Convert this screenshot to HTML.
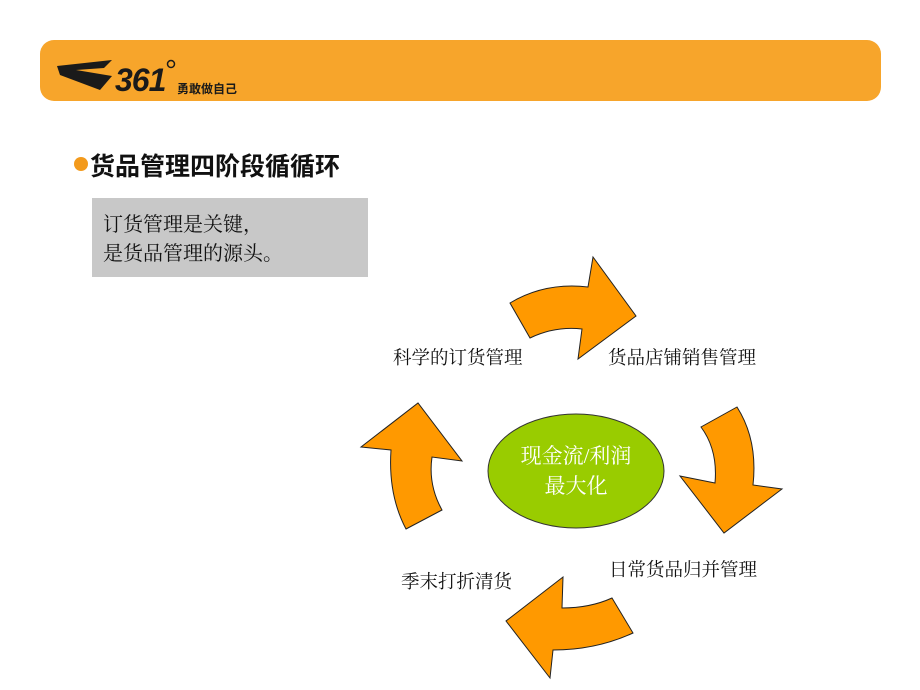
<!DOCTYPE html>
<html><head><meta charset="utf-8"><style>
body{margin:0;width:920px;height:690px;background:#fff;position:relative;overflow:hidden;font-family:"Liberation Serif","Noto Serif CJK SC",serif}
.bar{position:absolute;left:40px;top:40px;width:841px;height:61px;background:#f7a52b;border-radius:14px}
.t{position:absolute;white-space:nowrap}
</style></head><body>
<div class="bar"></div>
<svg class="t" style="left:0;top:0" width="920" height="690">
<path d="M57 66 L112 60 L104 68 L76 70 L112 76 L100 90 L60 75 Z" fill="#1a1a1a"/>
<text x="115" y="91" font-family="Liberation Sans,sans-serif" font-style="italic" font-weight="bold" font-size="32" fill="#1a1a1a" letter-spacing="-1">361</text>
<circle cx="171" cy="64" r="3.5" fill="none" stroke="#1a1a1a" stroke-width="1.5"/>
<text x="177" y="93" font-family="Noto Sans CJK SC,sans-serif" font-weight="bold" font-size="12" fill="#1a1a1a">勇敢做自己</text>
<circle cx="81" cy="164" r="7" fill="#f39a1c"/>
<path d="M530 338 L510 303 Q545 282 588 287 L593 257 L636 316 L578 359 L582 329 Q555 326 530 338 Z" fill="#ff9900" stroke="#222" stroke-width="1"/>
<path d="M737 407 L701 427 Q718 450 715 483 L680 476 L724 533 L782 489 L753 485 Q758 440 737 407 Z" fill="#ff9900" stroke="#222" stroke-width="1"/>
<path d="M612 598 L633 633 Q596 650 553 650 L550 678 L506 621 L563 577 L562 608 Q590 608 612 598 Z" fill="#ff9900" stroke="#222" stroke-width="1"/>
<path d="M406 529 L442 510 Q428 485 432 457 L462 461 L418 403 L361 447 L391 450 Q388 495 406 529 Z" fill="#ff9900" stroke="#222" stroke-width="1"/>
<ellipse cx="576" cy="471" rx="88" ry="57" fill="#99cc00" stroke="#333" stroke-width="1"/>
</svg>
<div class="t" style="left:90px;top:147px;font-size:25px;font-weight:bold;color:#111;font-family:'Liberation Sans','Noto Sans CJK SC',sans-serif">货品管理四阶段循循环</div>
<div class="t" style="left:92px;top:198px;width:276px;height:79px;background:#c8c8c8"></div>
<div class="t" style="left:103px;top:211px;font-size:20px;line-height:29px;color:#111">订货管理是关键，<br>是货品管理的源头。</div>
<div class="t" style="left:393px;top:344px;font-size:18.5px;color:#111">科学的订货管理</div>
<div class="t" style="left:608px;top:344px;font-size:18.5px;color:#111">货品店铺销售管理</div>
<div class="t" style="left:609px;top:556px;font-size:18.5px;color:#111">日常货品归并管理</div>
<div class="t" style="left:401px;top:568px;font-size:18.5px;color:#111">季末打折清货</div>
<div class="t" style="left:506px;top:441px;width:140px;text-align:center;font-size:21px;line-height:30px;color:#fff">现金流/利润<br>最大化</div>
</body></html>
